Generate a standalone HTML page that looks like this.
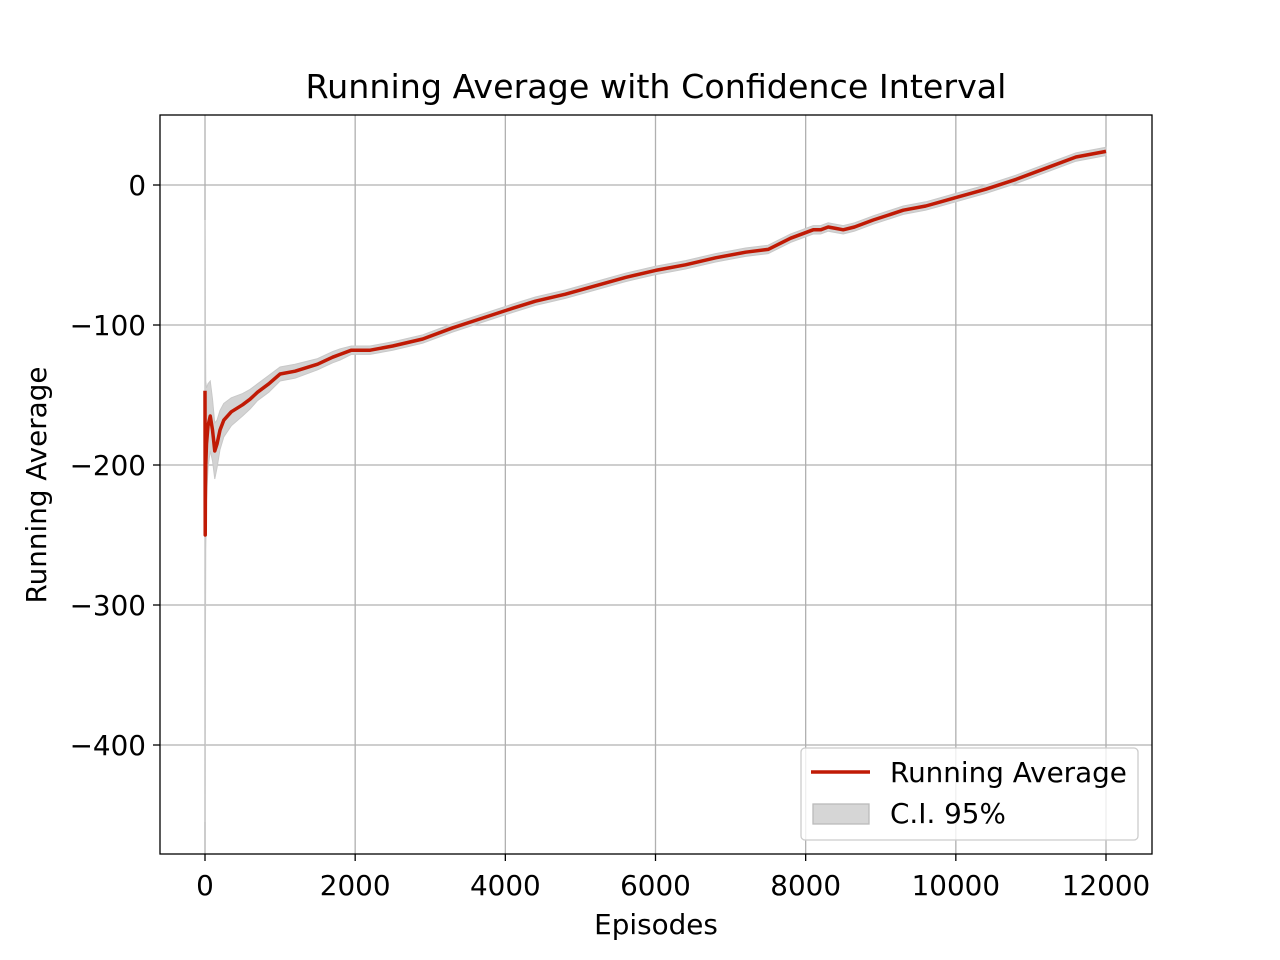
<!DOCTYPE html>
<html><head><meta charset="utf-8"><style>
body{margin:0;background:#fff;}
svg{display:block;font-family:"DejaVu Sans","Liberation Sans",sans-serif;}
</style></head><body>
<svg id="chart" width="1280" height="960" viewBox="0 0 1280 960" xmlns="http://www.w3.org/2000/svg">
<rect width="1280" height="960" fill="#fff"/>
<g id="grid"></g>
<g id="band"></g>
<g id="line"></g>
<rect x="160" y="115" width="992" height="739" fill="none" stroke="#000" stroke-width="1.3"/>
<g id="ticks" font-size="27.8" fill="#000"></g>
<text x="656" y="98" text-anchor="middle" font-size="33.3">Running Average with Confidence Interval</text>
<text x="656" y="934" text-anchor="middle" font-size="27.8">Episodes</text>
<text transform="translate(46,485) rotate(-90)" text-anchor="middle" font-size="27.8">Running Average</text>
<g>
<rect x="801" y="748" width="337" height="92" rx="4" fill="#fff" fill-opacity="0.8" stroke="#ccc" stroke-width="1.3"/>
<line x1="811" y1="772" x2="870" y2="772" stroke="#c01a05" stroke-width="3.5"/>
<text x="890" y="782" font-size="27.8">Running Average</text>
<rect x="813" y="804" width="56" height="20" fill="#d6d6d6" stroke="#bbb" stroke-width="1.3"/>
<text x="890" y="823" font-size="27.8">C.I. 95%</text>
</g>
</svg>
<script>
const episodes=[0,3,6,10,20,40,70,100,130,160,200,250,350,500,600,700,850,1000,1200,1500,1700,1800,1950,2200,2500,2900,3300,3700,4100,4400,4800,5200,5600,6000,6400,6800,7200,7500,7800,8100,8200,8300,8400,8500,8650,8900,9300,9600,9800,10000,10400,10800,11200,11600,12000];
const runningAvg=[-147,-250,-215,-200,-185,-172,-165,-175,-190,-185,-175,-168,-162,-157,-153,-148,-142,-135,-133,-128,-123,-121,-118,-118,-115,-110,-102,-95,-88,-83,-78,-72,-66,-61,-57,-52,-48,-46,-38,-32,-32,-30,-31,-32,-30,-25,-18,-15,-12,-9,-3,4,12,20,24];
const ciHalf=[122,205,110,60,40,30,25,22,20,17,14,12,10,8,7,6,6,5,5,4,4,4,3,3,3,3,3,3,3,3,3,3,3,3,3,3,3,3,3,3,3,3,3,3,3,3,3,3,3,3,3,3,3,3,3];
const xTicks=[0,2000,4000,6000,8000,10000,12000];
const yTicks=[0,-100,-200,-300,-400];
const X=v=>205+v*(1106-205)/12000;
const Y=v=>185-v*1.4;
const NS="http://www.w3.org/2000/svg";
function mk(t,a,p){const e=document.createElementNS(NS,t);for(const k in a)e.setAttribute(k,a[k]);p.appendChild(e);return e;}
const g=document.getElementById('grid'),tk=document.getElementById('ticks');
xTicks.forEach(v=>{
 const l=mk('line',{x1:X(v),x2:X(v),y1:115,y2:854,stroke:'#b0b0b0','stroke-width':1.3},g);
 
 
 mk('line',{x1:X(v),x2:X(v),y1:854,y2:861,stroke:'#000','stroke-width':1.3},tk);
 const t=mk('text',{x:X(v),y:895,'text-anchor':'middle'},tk);t.textContent=v;
 
 
});
yTicks.forEach(v=>{
 const l=mk('line',{y1:Y(v),y2:Y(v),x1:160,x2:1152,stroke:'#b0b0b0','stroke-width':1.3},g);
 
 
 mk('line',{y1:Y(v),y2:Y(v),x1:153,x2:160,stroke:'#000','stroke-width':1.3},tk);
 const t=mk('text',{x:146,y:Y(v)+10,'text-anchor':'end'},tk);t.textContent=v<0?'\u2212'+(-v):v;
 
 
});
let up=episodes.map((e,i)=>X(e)+','+Y(runningAvg[i]+ciHalf[i]));
let lo=episodes.map((e,i)=>X(e)+','+Y(runningAvg[i]-ciHalf[i])).reverse();
const band=mk('polygon',{points:up.concat(lo).join(' '),fill:'#d3d3d3',stroke:'#c8c8c8','stroke-width':1},document.getElementById('band'));


const ln=mk('polyline',{points:episodes.map((e,i)=>X(e)+','+Y(runningAvg[i])).join(' '),fill:'none',stroke:'#c01a05','stroke-width':3.5,'stroke-linejoin':'round'},document.getElementById('line'));


</script>
</body></html>
